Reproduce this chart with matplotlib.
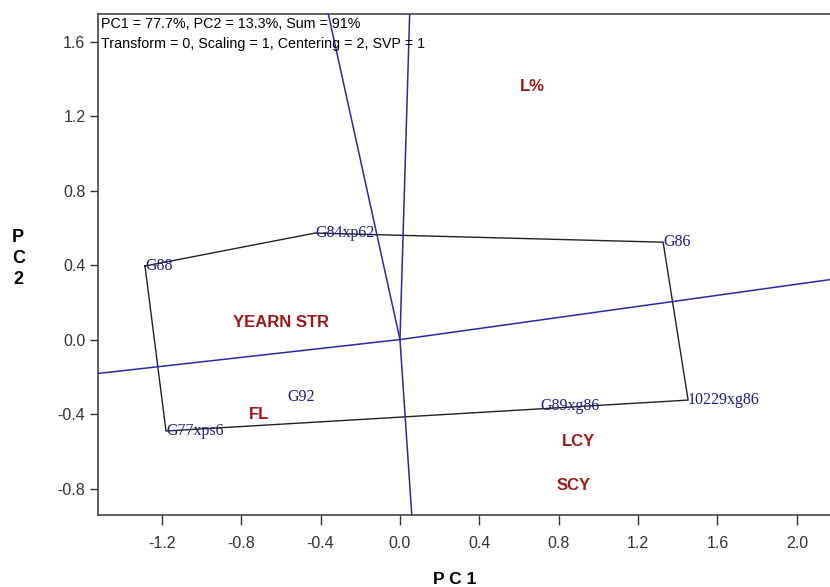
import numpy as np
import matplotlib
matplotlib.use("Agg")
import matplotlib.pyplot as plt
from matplotlib import font_manager

# genotype scores (PC1, PC2)
genotypes = ['G88', 'G84xp62', 'G86', '10229xg86', 'G77xps6', 'G89xg86', 'G92']
gen_pc1 = [-1.285, -0.428, 1.326, 1.452, -1.179, 0.706, -0.565]
gen_pc2 = [0.395, 0.572, 0.523, -0.325, -0.491, -0.357, -0.309]

# environment / trait scores
traits = ['L%', 'YEARN STR', 'FL', 'LCY', 'SCY']
tr_pc1 = [0.605, -0.842, -0.761, 0.817, 0.791]
tr_pc2 = [1.361, 0.089, -0.405, -0.545, -0.786]

# convex hull vertices, in drawing order
hull = ['G88', 'G84xp62', 'G86', '10229xg86', 'G77xps6']

info = ['PC1 = 77.7%, PC2 = 13.3%, Sum = 91%',
        'Transform = 0, Scaling = 1, Centering = 2, SVP = 1']

xticks = [-1.2, -0.8, -0.4, 0.0, 0.4, 0.8, 1.2, 1.6, 2.0]
yticks = [-0.8, -0.4, 0.0, 0.4, 0.8, 1.2, 1.6]

plt.rcParams['font.family'] = ['Liberation Sans', 'DejaVu Sans']

names = {f.name for f in font_manager.fontManager.ttflist}
tick_font = 'Liberation Sans Narrow' if 'Liberation Sans Narrow' in names else 'Liberation Sans'

fig = plt.figure(figsize=(8.3, 5.87), dpi=100)
ax = fig.add_axes([0.118, 0.1227, 0.882, 0.853])
ax.set_xlim(-1.522, 2.167)
ax.set_ylim(-0.942, 1.747)

pts = {g: np.array([x, y]) for g, x, y in zip(genotypes, gen_pc1, gen_pc2)}

# polygon
poly = np.array([pts[g] for g in hull + hull[:1]])
ax.plot(poly[:, 0], poly[:, 1], color='#222222', lw=1.0, zorder=2)

# rays from origin perpendicular to each side of the polygon
for a, b in zip(hull, hull[1:] + hull[:1]):
    p, q = pts[a], pts[b]
    d = q - p
    t = -p.dot(d) / d.dot(d)
    foot = p + t * d
    ax.plot([0, foot[0] * 50], [0, foot[1] * 50], color='#2a2aa8', lw=1.1, zorder=3)

for g, x, y in zip(genotypes, gen_pc1, gen_pc2):
    ax.text(x, y, g, color='#1c1c8c', fontsize=11.5, family='Liberation Serif',
            ha='left', va='center', zorder=4)

for t_, x, y in zip(traits, tr_pc1, tr_pc2):
    ax.text(x, y, t_, color='#a01818', fontsize=12, fontweight='bold',
            ha='left', va='center', zorder=4)

ax.text(0.004, 0.995, info[0] + '\n' + info[1], transform=ax.transAxes,
        fontsize=10.3, ha='left', va='top', linespacing=1.6)

ax.set_xticks(xticks)
ax.set_yticks(yticks)
ax.set_xticklabels(['%.1f' % v for v in xticks], family=tick_font)
ax.set_yticklabels(['%.1f' % v for v in yticks], family=tick_font)
ax.tick_params(direction='out', length=7, width=1, labelsize=11.5, colors='#333333',
               pad=8)
ax.tick_params(axis='y', length=6, pad=3)
for s in ax.spines.values():
    s.set_color('#444444')
    s.set_linewidth(1.2)
ax.spines['right'].set_visible(False)

fig.text(0.548, 0.0, 'P C 1', fontsize=12.5, fontweight='bold', ha='center', va='bottom')
fig.text(0.022, 0.56, 'P\nC\n2', fontsize=13, fontweight='bold', ha='center',
         va='center', linespacing=1.3)

fig.savefig('out.png', dpi=100)
